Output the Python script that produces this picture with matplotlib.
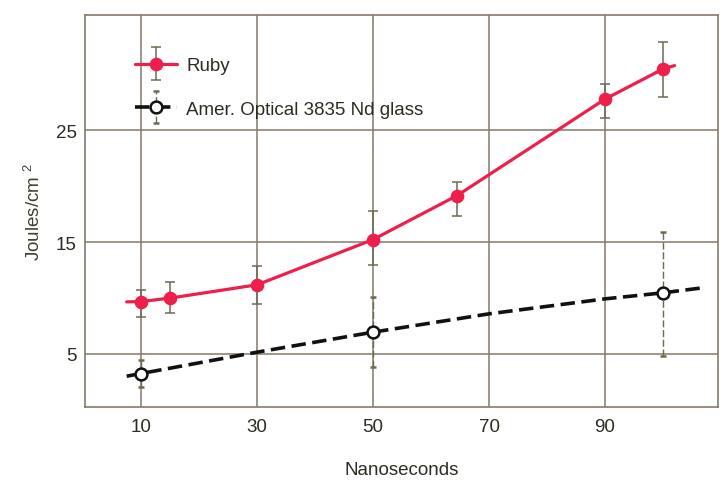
import matplotlib
matplotlib.use("Agg")
import matplotlib.pyplot as plt
from matplotlib.lines import Line2D
from matplotlib.container import ErrorbarContainer
from matplotlib.legend_handler import HandlerErrorbar, HandlerTuple

plt.rcParams['font.family'] = ['Liberation Sans', 'DejaVu Sans']
plt.rcParams['mathtext.fontset'] = 'custom'
plt.rcParams['mathtext.rm'] = 'Liberation Sans'
plt.rcParams['mathtext.default'] = 'regular'

# ---- data ----
ruby_x = [10, 15, 30, 50, 64.5, 90, 100]
ruby_y = [9.68, 9.99, 11.18, 15.23, 19.17, 27.8, 30.5]
ruby_lo = [8.34, 8.64, 9.48, 12.97, 17.33, 26.1, 28.0]
ruby_hi = [10.67, 11.42, 12.85, 17.83, 20.37, 29.17, 32.9]
ruby_curve_x = [7.5, 10, 15, 30, 50, 64.5, 90, 100, 102]
ruby_curve_y = [9.65, 9.68, 9.99, 11.18, 15.23, 19.17, 27.8, 30.5, 30.8]

nd_x = [10, 50, 100]
nd_y = [3.2, 6.94, 10.46]
nd_lo = [2.07, 3.81, 4.85]
nd_hi = [4.46, 10.08, 15.9]
nd_curve_x = [7.5, 30, 50, 70, 90, 100, 106.7]
nd_curve_y = [3.0, 5.15, 6.94, 8.58, 9.92, 10.46, 10.9]

x_ticks = [10, 30, 50, 70, 90]
y_ticks = [5, 15, 25]
labels = ["Ruby", "Amer. Optical 3835 Nd glass"]

RED = "#ee1f4b"
ERR = "#6d6a52"
GRID = "#85796b"
TXT = "#2a2e20"

fig = plt.figure(figsize=(7.26, 4.81), dpi=100)
ax = fig.add_axes([0.117, 0.152, 0.872, 0.814])
ax.set_xlim(0.3, 109.5)
ax.set_ylim(0.25, 35.3)

ax.set_xticks(x_ticks)
ax.set_yticks(y_ticks)
ax.tick_params(length=0, labelsize=13.5, labelcolor=TXT)
ax.tick_params(axis='x', pad=8)
ax.tick_params(axis='y', pad=6)
ax.grid(True, color=GRID, lw=1.1)
ax.set_axisbelow(True)
for s in ax.spines.values():
    s.set_color(GRID)
    s.set_linewidth(1.2)

# curves
l_ruby, = ax.plot(ruby_curve_x, ruby_curve_y, color=RED, lw=2.3, zorder=3,
                  solid_capstyle='round')
l_nd, = ax.plot(nd_curve_x, nd_curve_y, color="#111111", lw=2.6, zorder=3,
                dashes=(4, 1.8))

# error bars + markers
r_err = [[y - lo for y, lo in zip(ruby_y, ruby_lo)], [hi - y for y, hi in zip(ruby_y, ruby_hi)]]
eb_r = ax.errorbar(ruby_x, ruby_y, yerr=r_err, fmt='o', ms=8.8, mfc=RED, mec=RED,
                   ecolor=ERR, elinewidth=1.1, capsize=3.3, capthick=1.1, zorder=4)
n_err = [[y - lo for y, lo in zip(nd_y, nd_lo)], [hi - y for y, hi in zip(nd_y, nd_hi)]]
eb_n = ax.errorbar(nd_x, nd_y, yerr=n_err, fmt='o', ms=8.5, mfc='white', mec='#111111',
                   mew=1.8, ecolor=ERR, elinewidth=1.0, capsize=2.5, capthick=1.0, zorder=4)
eb_n[2][0].set_linestyle((0, (5, 2)))

ax.set_xlabel("Nanoseconds", fontsize=13.5, color=TXT, labelpad=19)
ax.set_ylabel("Joules/cm $^{2}$", fontsize=13.5, color="#3b4230", labelpad=8)

leg = ax.legend([(l_ruby, eb_r), (l_nd, eb_n)], labels,
                handler_map={tuple: HandlerTuple(ndivide=1),
                             ErrorbarContainer: HandlerErrorbar(xerr_size=0.87)},
                loc='upper left', bbox_to_anchor=(0.079, 0.893), borderpad=0,
                borderaxespad=0, frameon=False, fontsize=13.5, handlelength=2.25,
                handletextpad=0.48, labelspacing=1.4)
for t in leg.get_texts():
    t.set_color(TXT)

fig.savefig("out.png", dpi=100)
